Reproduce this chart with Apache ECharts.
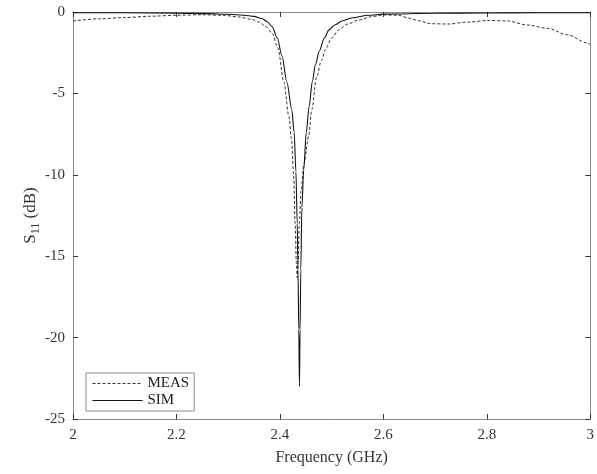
<!DOCTYPE html>
<html><head><meta charset="utf-8">
<script src="https://cdn.jsdelivr.net/npm/echarts@6/dist/echarts.min.js"></script>
<style>html,body{margin:0;padding:0;background:#fff}#c{width:597px;height:474px}</style>
</head><body><div id="c"></div>
<script>
const xTicks = [2, 2.2, 2.4, 2.6, 2.8, 3];
const yTicks = [0, -5, -10, -15, -20, -25];
const simFreq = [2.00,2.10,2.20,2.26,2.30,2.33,2.35,2.365,2.375,2.385,2.395,2.404,2.4135,2.423,2.4275,2.431,2.4335,2.435,2.4365,2.4378,2.439,2.4404,2.4425,2.446,2.451,2.4565,2.4625,2.469,2.476,2.486,2.495,2.506,2.52,2.54,2.571,2.6,2.7,2.8,2.9,3.0];
const simS11 = [-0.05,-0.05,-0.07,-0.1,-0.14,-0.2,-0.27,-0.4,-0.58,-0.9,-1.6,-2.7,-4.3,-6.0,-7.4,-9.8,-13,-15.8,-19.5,-23.0,-19.5,-15.8,-12,-9.7,-7.4,-5.8,-4.3,-3.2,-2.4,-1.6,-1.1,-0.8,-0.55,-0.35,-0.2,-0.13,-0.08,-0.06,-0.05,-0.05];
const measFreq = [2.00,2.05,2.10,2.15,2.20,2.25,2.29,2.32,2.345,2.36,2.373,2.385,2.396,2.4077,2.4173,2.4225,2.4265,2.4295,2.4318,2.4335,2.4352,2.4375,2.441,2.4465,2.4558,2.4615,2.471,2.48,2.488,2.5,2.5135,2.53,2.552,2.575,2.6,2.629,2.65,2.667,2.692,2.725,2.763,2.802,2.84,2.879,2.917,2.956,2.994,3.0];
const measS11 = [-0.55,-0.42,-0.34,-0.26,-0.2,-0.17,-0.2,-0.3,-0.45,-0.62,-0.9,-1.3,-2.2,-4.3,-6.4,-7.8,-10,-13,-15.4,-16.3,-15.4,-13,-11,-9.3,-7.6,-6.0,-4.0,-3.0,-2.3,-1.6,-1.1,-0.75,-0.5,-0.3,-0.18,-0.2,-0.38,-0.53,-0.72,-0.74,-0.62,-0.52,-0.55,-0.8,-1.0,-1.4,-1.9,-2.0];

const FONT = '"Liberation Serif", "DejaVu Serif", serif';
const AX = '#8a8a8a';
const chart = echarts.init(document.getElementById('c'), null, {renderer: 'canvas'});
const pairs = (xs, ys) => xs.map((x, i) => [x, ys[i]]);
const baseX = {type: 'value', min: xTicks[0], max: xTicks[xTicks.length-1], interval: 0.2,
  axisLine: {show: true, onZero: false, lineStyle: {color: AX, width: 1}},
  axisTick: {show: true, inside: true, length: 5, lineStyle: {color: '#333'}},
  splitLine: {show: false}};
const baseY = {type: 'value', min: yTicks[yTicks.length-1], max: yTicks[0], interval: 5,
  axisLine: {show: true, onZero: false, lineStyle: {color: AX, width: 1}},
  axisTick: {show: true, inside: true, length: 5, lineStyle: {color: '#333'}},
  splitLine: {show: false}};
chart.setOption({
  animation: false,
  backgroundColor: '#fff',
  grid: {left: 73, right: 4, top: 12, bottom: 55, containLabel: false},
  xAxis: [
    Object.assign({}, baseX, {position: 'bottom',
      axisLabel: {show: true, color: '#333', fontFamily: FONT, fontSize: 15, margin: 9,
        formatter: v => String(Math.round(v*10)/10)},
      name: 'Frequency (GHz)', nameLocation: 'middle', nameGap: 31, nameMoveOverlap: false,
      nameTextStyle: {color: '#333', fontFamily: FONT, fontSize: 16}}),
    Object.assign({}, baseX, {position: 'top', axisLabel: {show: false}})
  ],
  yAxis: [
    Object.assign({}, baseY, {position: 'left',
      axisLabel: {show: true, color: '#333', fontFamily: FONT, fontSize: 15, margin: 8},
      name: '{s|S}{sub|11}{s| (dB)}', nameLocation: 'middle', nameGap: 31, nameRotate: 90,
      nameMoveOverlap: false,
      nameTextStyle: {color: '#333', fontFamily: FONT, fontSize: 17,
        rich: {s: {fontFamily: FONT, fontSize: 17, color: '#333', verticalAlign: 'middle'},
               sub: {fontFamily: FONT, fontSize: 12, color: '#333', verticalAlign: 'middle', padding: [10, 0, 0, 0]}}}}),
    Object.assign({}, baseY, {position: 'right', axisLabel: {show: false}})
  ],
  legend: {
    show: true, orient: 'vertical', left: 86, top: 373,
    backgroundColor: '#fff', borderColor: AX, borderWidth: 1, borderRadius: 0,
    padding: [3, 5, 3, 6], itemGap: 2, itemWidth: 50, itemHeight: 14,
    itemStyle: {opacity: 0}, lineStyle: {width: 1},
    textStyle: {fontFamily: FONT, fontSize: 15, color: '#222'},
    data: ['MEAS', 'SIM']
  },
  series: [
    {name: 'MEAS', type: 'line', xAxisIndex: 0, yAxisIndex: 0, data: pairs(measFreq, measS11),
      showSymbol: false, symbol: 'none', smooth: 0.3, smoothMonotone: 'x',
      lineStyle: {color: '#333', width: 1, type: [3, 2]}, itemStyle: {color: '#333'}},
    {name: 'SIM', type: 'line', xAxisIndex: 0, yAxisIndex: 0, data: pairs(simFreq, simS11),
      showSymbol: false, symbol: 'none', smooth: 0.3, smoothMonotone: 'x',
      lineStyle: {color: '#111', width: 1.1}, itemStyle: {color: '#111'}}
  ]
});
</script></body></html>
